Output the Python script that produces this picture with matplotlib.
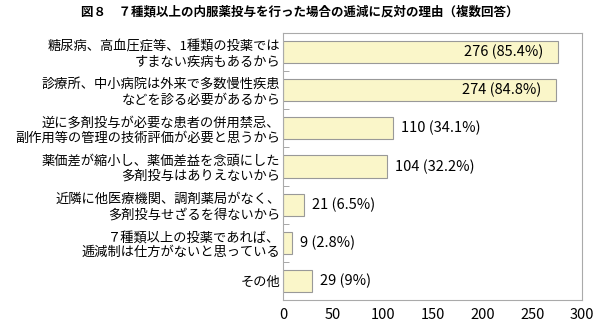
import matplotlib
matplotlib.use('Agg')
import matplotlib.pyplot as plt
import numpy as np

plt.rcParams['font.family'] = ['Noto Sans CJK JP', 'DejaVu Sans']

# data
reasons = ['糖尿病、高血圧症等、1種類の投薬では\nすまない疾病もあるから',
           '診療所、中小病院は外来で多数慢性疾患\nなどを診る必要があるから',
           '逆に多剤投与が必要な患者の併用禁忌、\n副作用等の管理の技術評価が必要と思うから',
           '薬価差が縮小し、薬価差益を念頭にした\n多剤投与はありえないから',
           '近隣に他医療機関、調剤薬局がなく、\n多剤投与せざるを得ないから',
           '７種類以上の投薬であれば、\n逓減制は仕方がないと思っている',
           'その他']
counts = [276, 274, 110, 104, 21, 9, 29]
pcts = ['85.4%', '84.8%', '34.1%', '32.2%', '6.5%', '2.8%', '9%']

fig = plt.figure(figsize=(6, 3.3), dpi=100)
ax = fig.add_axes([0.472, 0.091, 0.498, 0.809])

y = np.arange(len(counts))
ax.barh(y, counts, height=0.58, color='#faf6c9', edgecolor='#999999', linewidth=0.8)

for i, (c, p) in enumerate(zip(counts, pcts)):
    txt = '%d (%s)' % (c, p)
    if c > 200:
        ax.text(c - 15, i, txt, ha='right', va='center', fontsize=10.5)
    else:
        ax.text(c + 8, i, txt, ha='left', va='center', fontsize=10.5)

ax.set_ylim(len(counts) - 0.5, -0.5)
ax.set_xlim(0, 300)
ax.set_xticks(range(0, 301, 50))
ax.set_yticks(y)
ax.set_yticklabels(reasons, fontsize=9.5, linespacing=1.2)
ax.tick_params(axis='y', length=0, pad=2)
ax.set_yticks(np.arange(-0.5, len(counts), 1), minor=True)
ax.tick_params(axis='y', which='minor', direction='in', length=4, color='#999999')
ax.tick_params(axis='x', length=0, labelsize=10.5, pad=6)
for s in ax.spines.values():
    s.set_color('#aaaaaa')

fig.text(0.5, 0.963, '図８　７種類以上の内服薬投与を行った場合の逓減に反対の理由（複数回答）',
         ha='center', va='center', fontsize=9, fontweight='bold')

fig.savefig('out.png', dpi=100)
